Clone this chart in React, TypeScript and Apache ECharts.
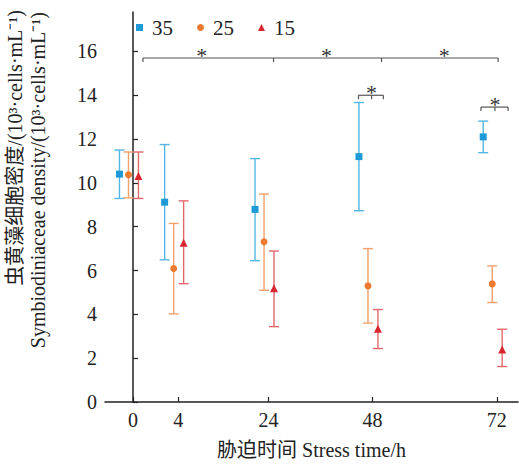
import React, { useEffect, useRef } from "react";
import * as echarts from "echarts";

const timeLabels = ["0", "4", "24", "48", "72"];
const timeSlots = [0, 1, 3, 5.3, 8.05];
const seriesNames = ["35", "25", "15"];
const seriesDodge = [-0.3, -0.1, 0.12];

const mean35 = [10.4, 9.12, 8.79, 11.2, 12.1];
const upper35 = [11.5, 11.75, 11.11, 13.67, 12.82];
const lower35 = [9.29, 6.49, 6.45, 8.73, 11.38];

const mean25 = [10.37, 6.09, 7.31, 5.3, 5.39];
const upper25 = [11.41, 8.15, 9.49, 7.0, 6.21];
const lower25 = [9.32, 4.02, 5.1, 3.6, 4.54];

const mean15 = [10.32, 7.27, 5.19, 3.34, 2.4];
const upper15 = [11.41, 9.18, 6.89, 4.22, 3.32];
const lower15 = [9.29, 5.4, 3.44, 2.44, 1.62];

const yTicks = [0, 2, 4, 6, 8, 10, 12, 14, 16];

// significance brackets: [xStart, xEnd, y] and inner tick x's
const bracketSpans = [
  [0.22, 8.08, 15.7],
  [4.99, 5.54, 14.0],
  [7.7, 8.3, 13.46],
];
const bracketTicks = [[3.11, 5.5], [5.28], [8.01]];
const starMarks = [
  [1.52, 16.05],
  [4.28, 16.05],
  [6.89, 16.05],
  [5.28, 14.36],
  [8.01, 13.8],
];

const markerColors = ["#1e9bd7", "#ec7a30", "#d8262f"];
const barColors = ["#55b6e4", "#f2a06c", "#e2676b"];
const symbols = ["rect", "circle", "triangle"];
const symbolSizes = [7, 7, 8];

const FONT = "'Liberation Serif', 'Times New Roman', 'Noto Sans CJK SC', serif";

export default function App() {
  const ref = useRef<HTMLDivElement>(null);
  useEffect(() => {
    if (!ref.current) return;
    const chart = echarts.init(ref.current, undefined, { renderer: "svg" });
    const means = [mean35, mean25, mean15];
    const uppers = [upper35, upper25, upper15];
    const lowers = [lower35, lower25, lower15];

    const errSeries = seriesNames.map((name, s) => ({
      type: "custom",
      name: name + "-err",
      silent: true,
      z: 2,
      encode: { x: 0, y: [1, 2] },
      data: timeSlots.map((t, i) => [t + seriesDodge[s], lowers[s][i], uppers[s][i]]),
      renderItem: (params: any, api: any) => {
        const x = api.value(0);
        const lo = api.value(1);
        const hi = api.value(2);
        const pt = api.coord([x, hi]);
        const pb = api.coord([x, lo]);
        const w = 5;
        const st = { stroke: barColors[s], lineWidth: 1.4 };
        return {
          type: "group",
          children: [
            { type: "line", shape: { x1: pt[0], y1: pt[1], x2: pb[0], y2: pb[1] }, style: st },
            { type: "line", shape: { x1: pt[0] - w, y1: pt[1], x2: pt[0] + w, y2: pt[1] }, style: st },
            { type: "line", shape: { x1: pb[0] - w, y1: pb[1], x2: pb[0] + w, y2: pb[1] }, style: st },
          ],
        };
      },
    }));

    const pointSeries = seriesNames.map((name, s) => ({
      type: "scatter",
      name,
      z: 3,
      symbol: symbols[s],
      symbolSize: symbolSizes[s],
      itemStyle: { color: markerColors[s], opacity: 1 },
      data: timeSlots.map((t, i) => [t + seriesDodge[s], means[s][i]]),
    }));

    const bracketSeries = {
      type: "custom",
      name: "brackets",
      silent: true,
      z: 4,
      encode: { x: [0, 1], y: 2 },
      data: bracketSpans,
      renderItem: (params: any, api: any) => {
        const x0 = api.value(0);
        const x1 = api.value(1);
        const y = api.value(2);
        const p0 = api.coord([x0, y]);
        const p1 = api.coord([x1, y]);
        const st = { stroke: "#555", lineWidth: 1.2 };
        const tl = 4;
        const xs = [x0, ...bracketTicks[params.dataIndex], x1];
        return {
          type: "group",
          children: [
            { type: "line", shape: { x1: p0[0], y1: p0[1], x2: p1[0], y2: p1[1] }, style: st },
            ...xs.map((xx) => {
              const p = api.coord([xx, y]);
              return { type: "line", shape: { x1: p[0], y1: p[1], x2: p[0], y2: p[1] + tl }, style: st };
            }),
          ],
        };
      },
    };

    const starSeries = {
      type: "custom",
      name: "stars",
      silent: true,
      z: 4,
      encode: { x: 0, y: 1 },
      data: starMarks,
      renderItem: (params: any, api: any) => {
        const p = api.coord([api.value(0), api.value(1)]);
        return {
          type: "text",
          x: p[0],
          y: p[1] + 5,
          style: {
            text: "*",
            fontSize: 22,
            fontFamily: FONT,
            fill: "#333",
            align: "center",
            verticalAlign: "middle",
          },
        };
      },
    };

    chart.setOption({
      animation: false,
      backgroundColor: "#fff",
      textStyle: { fontFamily: FONT },
      grid: { left: 105, right: 1, top: 12, bottom: 62, containLabel: false },
      legend: {
        left: 131,
        top: 12,
        itemWidth: 7,
        itemHeight: 7,
        itemGap: 24,
        textStyle: { fontSize: 21, fontFamily: FONT, color: "#222", padding: [0, 0, 0, 4] },
        data: seriesNames.map((n, s) => ({ name: n, icon: symbols[s] })),
        selectedMode: false,
      },
      xAxis: {
        type: "value",
        min: -0.62,
        max: 8.52,
        splitLine: { show: false },
        axisLine: { lineStyle: { color: "#222", width: 1.5 } },
        axisTick: { inside: true, length: 5, lineStyle: { color: "#222", width: 1.2 }, customValues: timeSlots },
        axisLabel: {
          customValues: timeSlots,
          fontSize: 20,
          fontFamily: FONT,
          color: "#222",
          margin: 8,
          formatter: (v: number) => {
            const i = timeSlots.findIndex((s) => Math.abs(s - v) < 1e-6);
            return i >= 0 ? timeLabels[i] : "";
          },
        },
        name: "胁迫时间 Stress time/h",
        nameLocation: "middle",
        nameGap: 38,
        nameTextStyle: { fontSize: 20, fontFamily: FONT, color: "#222" },
      },
      yAxis: {
        type: "value",
        min: 0,
        max: 17.8,
        splitLine: { show: false },
        axisLine: { show: true, lineStyle: { color: "#222", width: 1.5 } },
        axisTick: { show: true, inside: true, length: 5, lineStyle: { color: "#222", width: 1.2 }, customValues: yTicks },
        axisLabel: { customValues: yTicks, fontSize: 20, fontFamily: FONT, color: "#222", margin: 8 },
      },
      graphic: [
        {
          type: "text",
          x: 15,
          y: 10,
          rotation: Math.PI / 2,
          style: {
            text: "虫黄藻细胞密度/(10³·cells·mL⁻¹)",
            fontSize: 20,
            fontFamily: FONT,
            fill: "#222",
            align: "right",
            verticalAlign: "middle",
          },
        },
        {
          type: "text",
          x: 38,
          y: 12,
          rotation: Math.PI / 2,
          style: {
            text: "Symbiodiniaceae density/(10³·cells·mL⁻¹)",
            fontSize: 20,
            fontFamily: FONT,
            fill: "#222",
            align: "right",
            verticalAlign: "middle",
          },
        },
      ],
      series: [...errSeries, ...pointSeries, bracketSeries, starSeries],
    });
    return () => chart.dispose();
  }, []);
  return <div ref={ref} style={{ width: 519, height: 465, position: "absolute", left: 0, top: 0 }} />;
}
